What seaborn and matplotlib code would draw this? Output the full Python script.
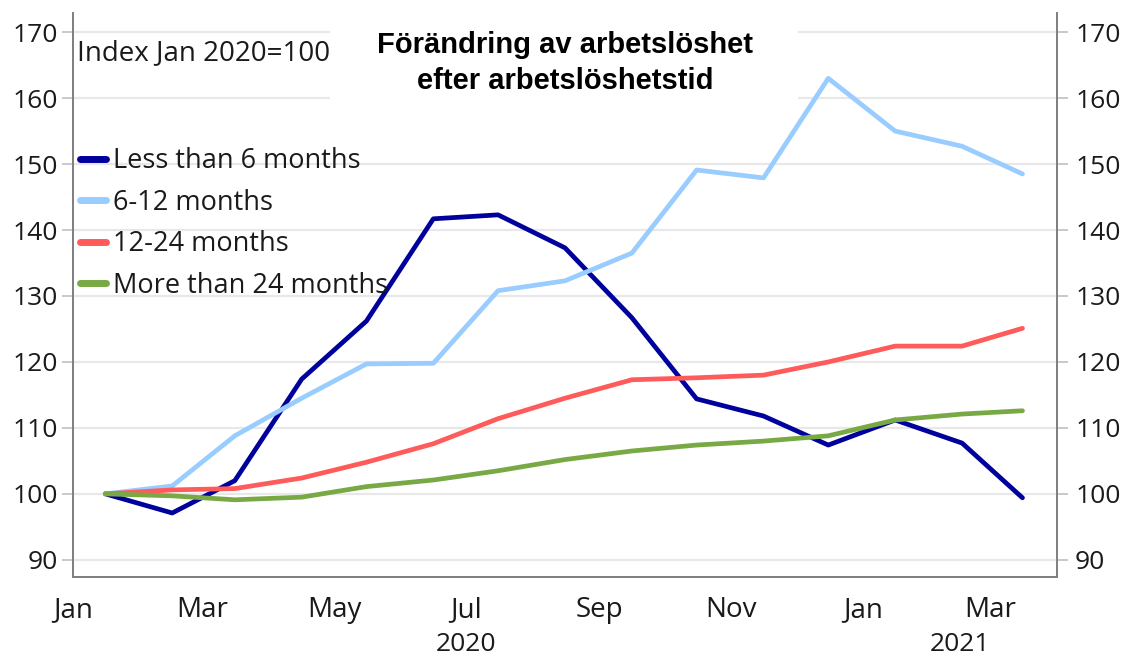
import pandas as pd
import numpy as np
import matplotlib
matplotlib.use('Agg')
import matplotlib.pyplot as plt
import matplotlib.dates as mdates
import matplotlib.transforms as mtransforms
from matplotlib.lines import Line2D
from matplotlib.patches import Rectangle
import seaborn as sns

# Monthly observations (plotted mid-month)
months = ['2020-01-16', '2020-02-16', '2020-03-16', '2020-04-16', '2020-05-16',
          '2020-06-16', '2020-07-16', '2020-08-16', '2020-09-16', '2020-10-16',
          '2020-11-16', '2020-12-16', '2021-01-16', '2021-02-16', '2021-03-16']

less_than_6 = [100.0, 97.1, 102.0, 117.4, 126.2, 141.7, 142.3, 137.3,
               126.7, 114.4, 111.8, 107.4, 111.2, 107.7, 99.4]
months_6_12 = [100.0, 101.2, 108.8, 114.5, 119.7, 119.8, 130.8, 132.3,
               136.5, 149.1, 147.9, 163.0, 155.0, 152.7, 148.5]
months_12_24 = [100.0, 100.6, 100.8, 102.4, 104.8, 107.6, 111.4, 114.5,
                117.3, 117.6, 118.0, 120.0, 122.4, 122.4, 125.1]
more_than_24 = [100.0, 99.7, 99.1, 99.5, 101.1, 102.1, 103.5, 105.2,
                106.5, 107.4, 108.0, 108.8, 111.2, 112.1, 112.6]

series_names = ['Less than 6 months', '6-12 months', '12-24 months', 'More than 24 months']
series_colors = ['#00009c', '#99ccff', '#ff5b5b', '#78a944']

df = pd.DataFrame({
    'date': pd.to_datetime(months),
    series_names[0]: less_than_6,
    series_names[1]: months_6_12,
    series_names[2]: months_12_24,
    series_names[3]: more_than_24,
})
long_df = df.melt(id_vars='date', var_name='series', value_name='value')

sns.set_style('white')
plt.rcParams['font.family'] = ['Open Sans', 'DejaVu Sans']

fig = plt.figure(figsize=(11.24, 6.57), dpi=100)
ax = fig.add_axes([0.0649, 0.1218, 0.8755, 0.8584])

sns.lineplot(data=long_df, x='date', y='value', hue='series',
             hue_order=series_names, palette=dict(zip(series_names, series_colors)),
             linewidth=3.4, ax=ax, legend=False, zorder=3)

ax.set_xlim(pd.Timestamp('2020-01-01'), pd.Timestamp('2021-04-01'))
ax.set_ylim(87.4, 172.9)
yticks = [90, 100, 110, 120, 130, 140, 150, 160, 170]
ax.set_yticks(yticks)
ax.yaxis.grid(True, color='#e8e8e8', linewidth=1.6)
ax.set_axisbelow(True)
ax.set_xlabel('')
ax.set_ylabel('')

ax.xaxis.set_major_locator(mdates.MonthLocator(bymonth=[1, 3, 5, 7, 9, 11]))
ax.xaxis.set_major_formatter(mdates.DateFormatter('%b'))
ax.tick_params(axis='x', direction='out', length=8, width=1.2, color='#808080',
               labelsize=20, pad=6, labelcolor='#1a1a1a')
ax.tick_params(axis='y', direction='out', length=8, width=1.2, color='#c0c0c0',
               labelsize=19, pad=3, labelcolor='#1a1a1a')

# right-hand axis mirrors the left one
ax2 = ax.twinx()
ax2.set_ylim(ax.get_ylim())
ax2.set_yticks(yticks)
ax2.tick_params(axis='y', direction='out', length=8, width=1.2, color='#c0c0c0',
                labelsize=19, pad=5, labelcolor='#1a1a1a')

for a in (ax, ax2):
    a.spines['top'].set_visible(False)
    for s in ('left', 'right', 'bottom'):
        a.spines[s].set_color('#808080')
        a.spines[s].set_linewidth(1.3)

# year labels below the month labels
trans = mtransforms.blended_transform_factory(ax.transData, ax.transAxes)
ax.text(pd.Timestamp('2020-07-01'), -0.119, '2020', transform=trans,
        ha='center', va='center', fontsize=19, color='#1a1a1a')
ax.text(pd.Timestamp('2021-02-15'), -0.119, '2021', transform=trans,
        ha='center', va='center', fontsize=19, color='#1a1a1a')

# white box behind the title
ax.add_patch(Rectangle((0.261, 0.83), 0.476, 0.17, transform=ax.transAxes,
                       facecolor='white', edgecolor='none', zorder=1))
fig.text(0.503, 0.904, 'Förändring av arbetslöshet\nefter arbetslöshetstid',
         ha='center', va='center', fontsize=21, fontweight='bold',
         family=['Liberation Sans', 'DejaVu Sans'], linespacing=1.4, color='#000000')

ax.text(0.004, 0.928, 'Index Jan 2020=100', transform=ax.transAxes,
        ha='left', va='center', fontsize=20, color='#1a1a1a')

handles = [Line2D([0], [0], color=c, linewidth=5) for c in series_colors]
leg = ax.legend(handles, series_names, loc='upper left', bbox_to_anchor=(0.007, 0.762),
                frameon=False, fontsize=19.5, handlelength=0.95, handletextpad=0.26,
                labelspacing=0.5, borderaxespad=0, borderpad=0)
for t in leg.get_texts():
    t.set_color('#1a1a1a')

fig.savefig('out.png', dpi=100)
